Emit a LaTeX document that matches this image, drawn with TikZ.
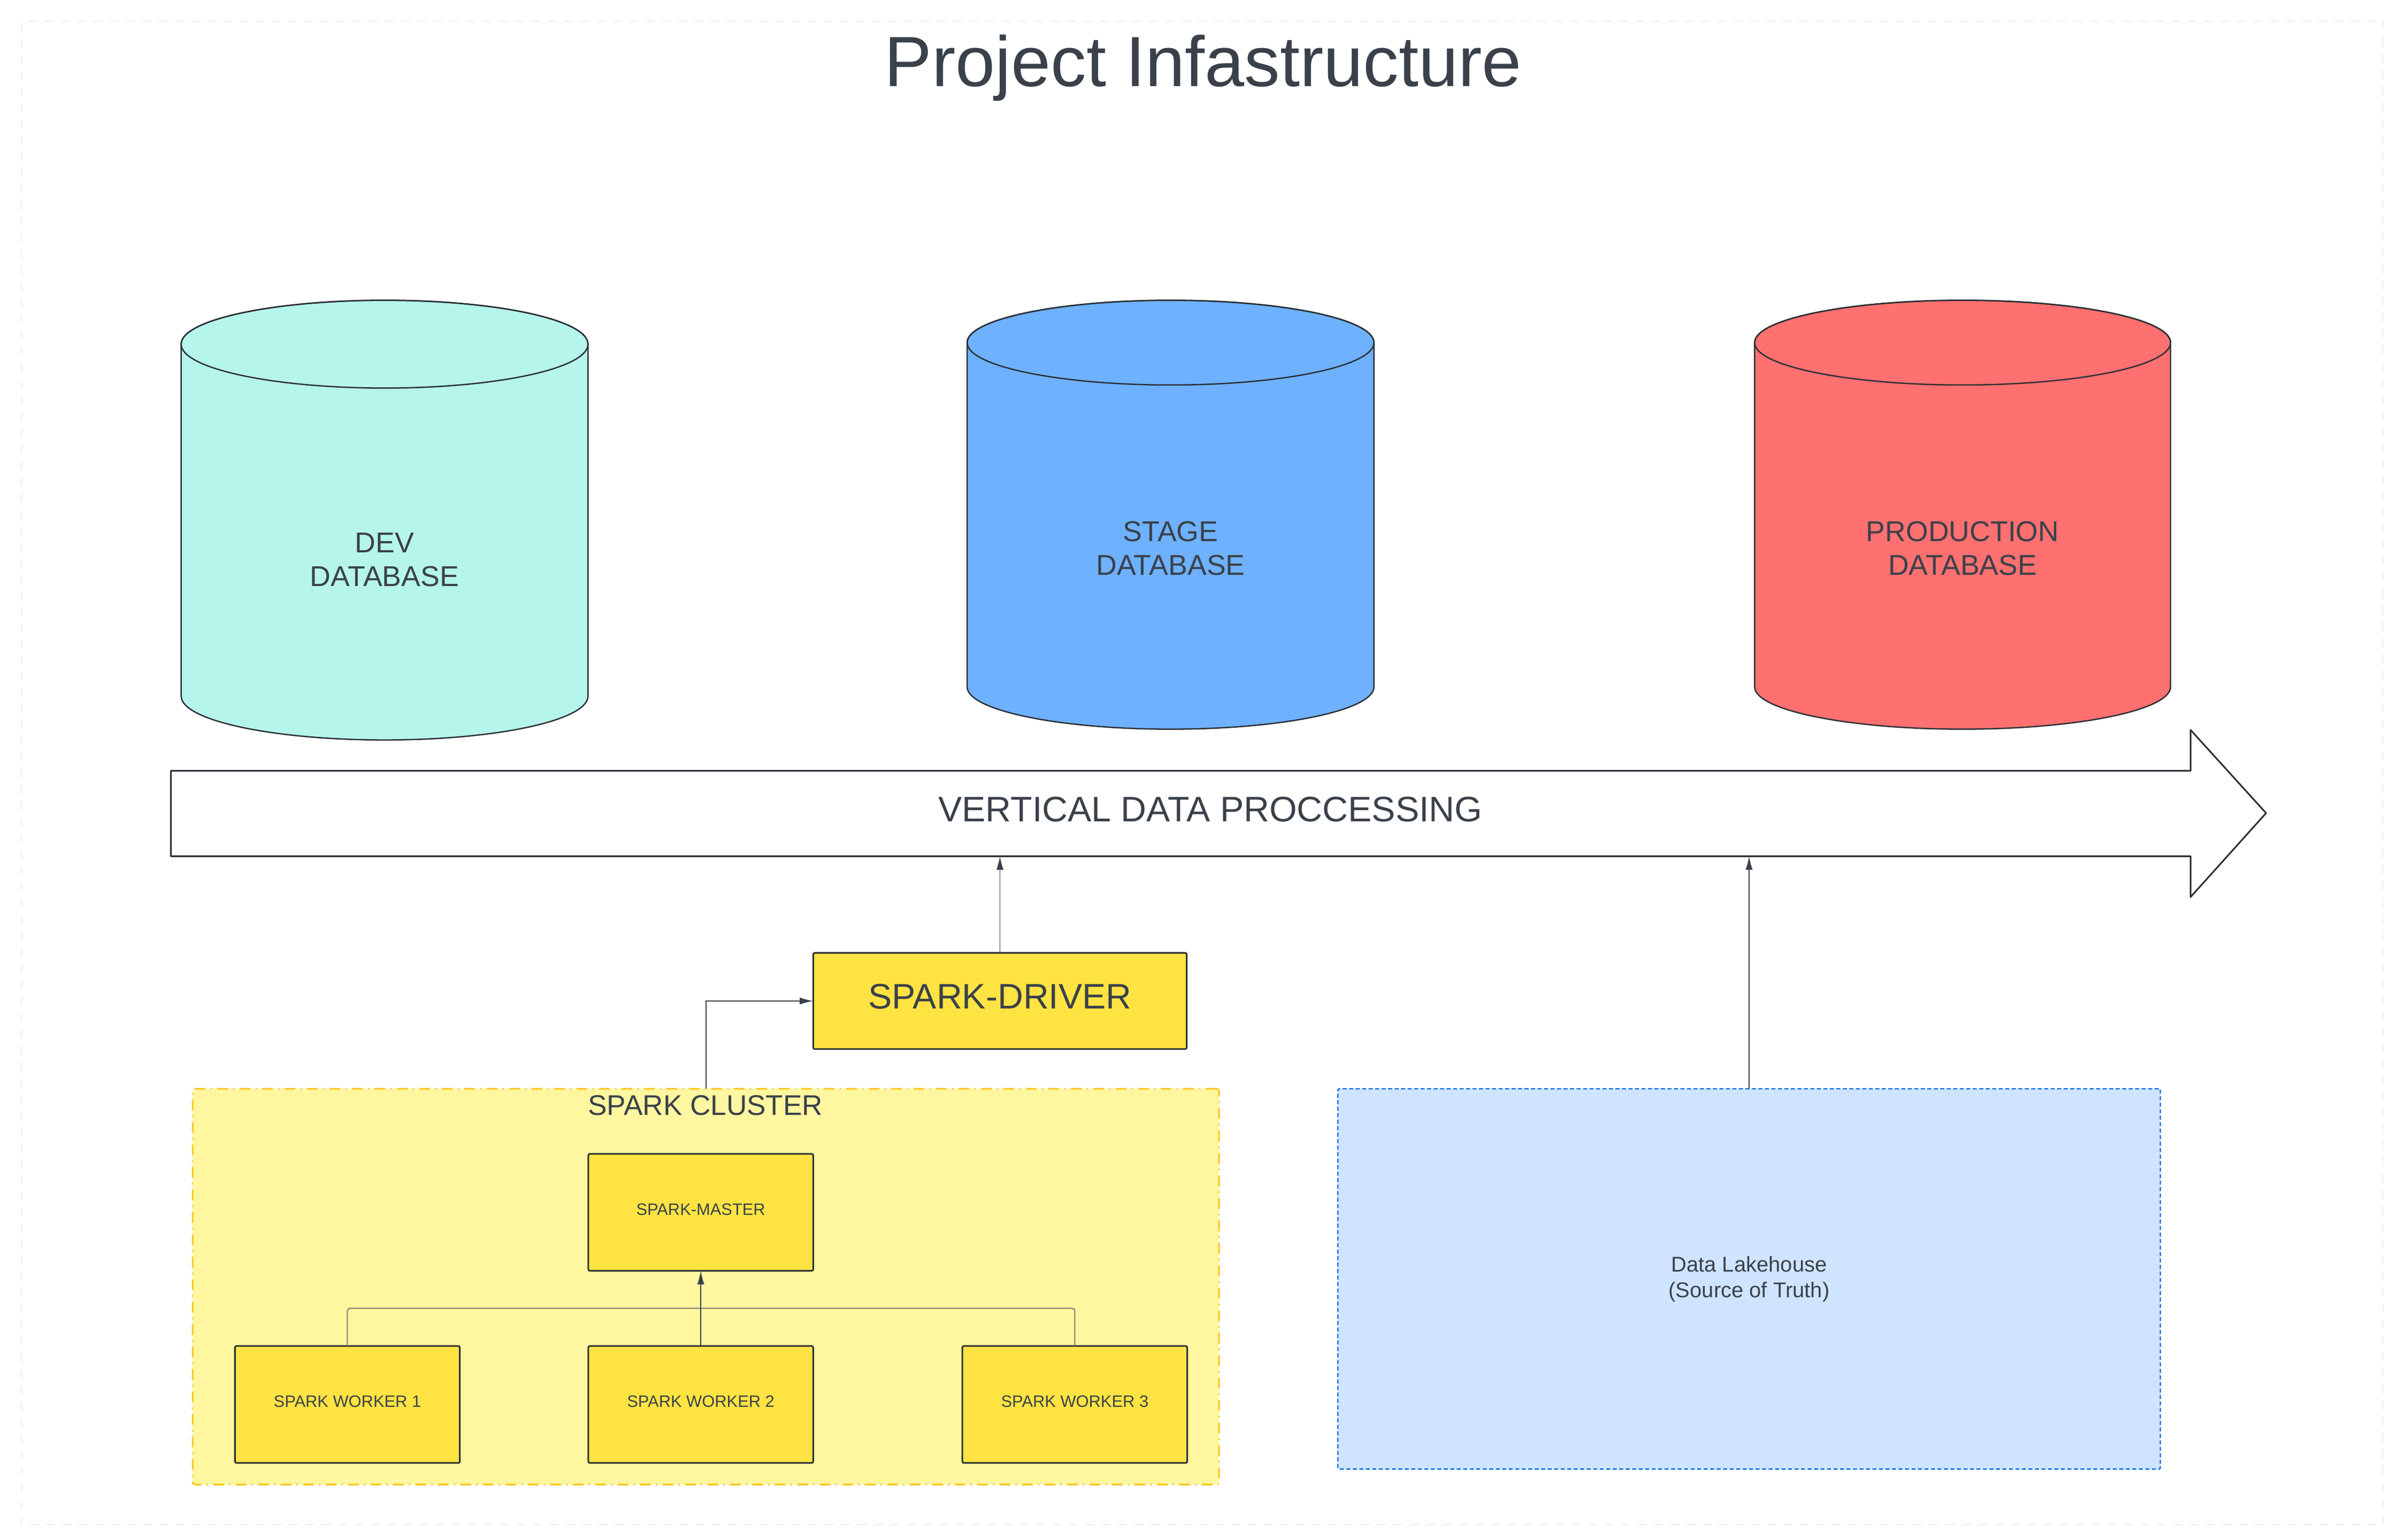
\documentclass[tikz,border=0pt]{standalone}
\usepackage{fontspec}
\setmainfont{Liberation Sans}
\usetikzlibrary{arrows.meta}
\definecolor{ink}{HTML}{3A414A}
\definecolor{edge}{HTML}{2B3036}
\definecolor{devfill}{HTML}{B5F5EC}
\definecolor{stagefill}{HTML}{6DB1FF}
\definecolor{prodfill}{HTML}{FF7070}
\definecolor{sparkfill}{HTML}{FFE342}
\definecolor{clusterfill}{HTML}{FFF6A0}
\definecolor{clusteredge}{HTML}{FCC419}
\definecolor{lakefill}{HTML}{CFE4FF}
\definecolor{lakeedge}{HTML}{1071E5}
\definecolor{wiregray}{HTML}{7A7A7A}
\tikzset{
  sparkbox/.style={draw=edge, fill=sparkfill, line width=0.6pt, rounded corners=0.6pt, inner sep=0pt, outer sep=0pt, text=ink, align=center, text depth=2.2pt, minimum width=2.92cm, minimum height=1.52cm, font=\fontsize{6.1}{7.5}\selectfont},
  dblabel/.style={text=ink, align=center, font=\fontsize{10.6}{12.5}\selectfont},
  link/.style={draw=ink, line width=0.35pt, -{Latex[length=5pt,width=2.6pt]}},
  wire/.style={draw=wiregray, line width=0.4pt, rounded corners=1pt},
}
\begin{document}
\begin{tikzpicture}[x=0.02cm, y=0.02cm]
\useasboundingbox (0,0) rectangle (1562.5,1000);
\draw[draw=black!7, dashed, line width=0.4pt] (14,10) rectangle (1547,986);
\node[text=ink, anchor=base, font=\fontsize{26.3}{31}\selectfont] (title) at (781,944) {Project Infastructure};

% databases
\foreach \xl/\xr/\yt/\yb/\ry/\col in {117.6/381.7/776.5/548/28.5/devfill, 627.8/891.9/777.5/554/27.5/stagefill, 1139/1409/777.5/554/27.5/prodfill}{
  \pgfmathsetmacro{\rx}{(\xr-\xl)/2}
  \pgfmathsetmacro{\cx}{(\xr+\xl)/2}
  \filldraw[fill=\col, draw=edge, line width=0.5pt] (\xl,\yt) -- (\xl,\yb) arc[start angle=180, end angle=360, x radius=\rx, y radius=\ry] -- (\xr,\yt) arc[start angle=0, end angle=180, x radius=\rx, y radius=\ry] -- cycle;
  \draw[draw=edge, line width=0.5pt] (\cx,\yt) ellipse [x radius=\rx, y radius=\ry];
}
\node[dblabel] (dev) at (249.6,636.5) {DEV\\DATABASE};
\node[dblabel] (stage) at (759.9,644) {STAGE\\DATABASE};
\node[dblabel] (prod) at (1274,644) {PRODUCTION\\DATABASE};

% processing arrow
\draw[draw=edge, fill=white, line width=0.6pt, line join=round] (111,499.5) -- (1422,499.5) -- (1422,526) -- (1471,472) -- (1422,417.5) -- (1422,444) -- (111,444) -- cycle;
\node[text=ink, font=\fontsize{13.1}{15}\selectfont] (flow) at (785.7,474.5) {VERTICAL DATA PROCCESSING};
\coordinate (flowbase) at (111,444);

\node[sparkbox, minimum width=4.85cm, minimum height=1.25cm, text depth=3.4pt, font=\fontsize{13.1}{16}\selectfont] (drv) at (649.1,350) {SPARK-DRIVER};

% cluster
\node[draw=clusteredge, fill=clusterfill, line width=0.6pt, dash pattern=on 4pt off 1.9pt on 0.5pt off 1.9pt, rounded corners=1pt, minimum width=13.33cm, minimum height=5.14cm, inner sep=0pt, outer sep=0pt] (cluster) at (458.2,164.5) {};
\node[text=ink, anchor=base, font=\fontsize{10.5}{13}\selectfont] (clusterlbl) at (457.9,276) {SPARK CLUSTER};
\node[sparkbox] (master) at (454.9,212.75) {SPARK-MASTER};
\foreach \i/\x in {1/225.5,2/454.9,3/697.7}
  \node[sparkbox] (w\i) at (\x,88) {SPARK WORKER \i};

\node[draw=lakeedge, fill=lakefill, line width=0.5pt, dash pattern=on 1.5pt off 0.9pt, rounded corners=0.6pt, minimum width=10.68cm, minimum height=4.94cm, inner sep=0pt, outer sep=0pt, text=ink, align=center, font=\fontsize{7.9}{9.5}\selectfont] (lake) at (1135.4,169.5) {Data Lakehouse\\(Source of Truth)};

% connectors
\coordinate (bus) at (454.9,150.5);
\draw[wire] (w1.north) |- (bus);
\draw[wire] (w3.north) |- (bus);
\draw[link] (w2.north) -- (master.south);
\draw[link] (cluster.north) |- (drv.west);
\draw[link] (drv.north) -- (drv.north |- flowbase);
\draw[link] (lake.north) -- (lake.north |- flowbase);

\end{tikzpicture}
\end{document}
